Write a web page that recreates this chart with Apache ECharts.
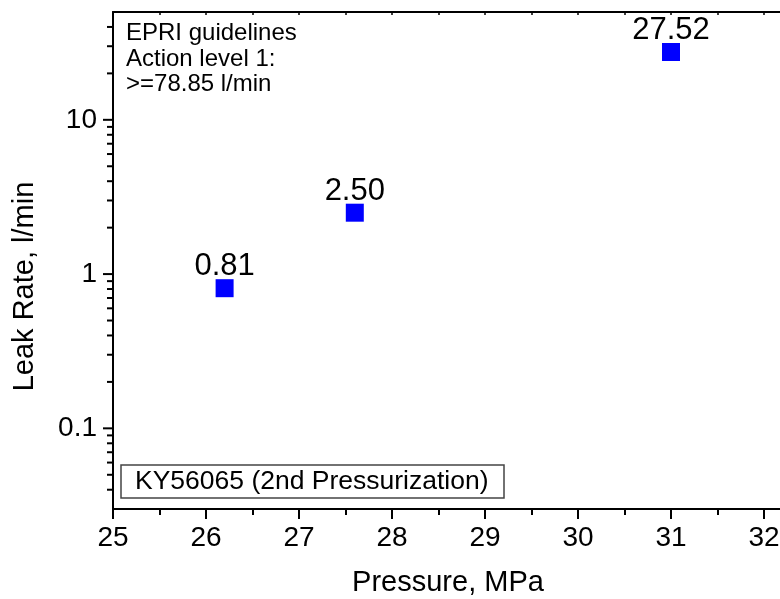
<!DOCTYPE html>
<html><head><meta charset="utf-8">
<script src="https://cdn.jsdelivr.net/npm/echarts@6/dist/echarts.min.js"></script>
<style>html,body{margin:0;padding:0;background:#fff}#c{width:780px;height:599px}</style>
</head><body><div id="c"></div>
<script>
const pressure = [26.2, 27.6, 31.0];
const leakRate = [0.81, 2.50, 27.52];
const pointLabels = ['0.81', '2.50', '27.52'];
const yMajorTicks = [0.1, 1, 10];
const yMinorTicks = [0.04, 0.05, 0.06, 0.07, 0.08, 0.09,
  0.2, 0.3, 0.4, 0.5, 0.6, 0.7, 0.8, 0.9,
  2, 3, 4, 5, 6, 7, 8, 9,
  20, 30, 40];
const FONT = 'Liberation Sans, Arial, Helvetica, sans-serif';

const chart = echarts.init(document.getElementById('c'), null, {renderer: 'canvas'});

function isPow10(v) {
  const l = Math.log10(v);
  return Math.abs(l - Math.round(l)) < 1e-6;
}

const tickData = yMajorTicks.map(v => [25, v, 10]).concat(yMinorTicks.map(v => [25, v, 6]));

chart.setOption({
  backgroundColor: '#fff',
  animation: false,
  grid: {left: 113, top: 12, width: 744, height: 497, outerBoundsMode: 'none', containLabel: false},
  xAxis: [{
    type: 'value', min: 25, max: 33, interval: 1, position: 'bottom',
    name: 'Pressure, MPa', nameLocation: 'middle', nameGap: 59,
    nameTextStyle: {fontSize: 29, color: '#000', fontFamily: FONT, padding: [0, 74, 0, 0]},
    axisLine: {show: true, lineStyle: {color: '#000', width: 2}},
    axisTick: {show: true, inside: false, length: 10, lineStyle: {color: '#000', width: 2}},
    minorTick: {show: true, splitNumber: 2, length: 6, lineStyle: {color: '#000', width: 2}},
    axisLabel: {fontSize: 28, color: '#000', fontFamily: FONT, margin: 15},
    splitLine: {show: false}, minorSplitLine: {show: false}
  }, {
    type: 'value', min: 25, max: 33, interval: 0.5, position: 'top',
    axisLine: {show: true, lineStyle: {color: '#000', width: 2}},
    axisTick: {show: true, inside: true, length: 3, lineStyle: {color: '#000', width: 1.5}},
    axisLabel: {show: false},
    splitLine: {show: false}
  }],
  yAxis: {
    type: 'log', logBase: 10, min: 0.03, max: 50,
    name: 'Leak Rate, l/min', nameLocation: 'middle', nameGap: 74,
    nameTextStyle: {fontSize: 29, color: '#000', fontFamily: FONT, padding: [0, 52, 0, 0]},
    axisLine: {show: true, lineStyle: {color: '#000', width: 2}},
    axisTick: {show: false},
    axisLabel: {
      fontSize: 28, color: '#000', fontFamily: FONT, margin: 16,
      formatter: v => isPow10(v) ? String(Number(v.toPrecision(6))) : ''
    },
    splitLine: {show: false}
  },
  series: [{
    type: 'custom', xAxisIndex: 0, clip: false, silent: true, z: 5,
    data: tickData,
    renderItem: (params, api) => {
      const p = api.coord([api.value(0), api.value(1)]);
      const len = api.value(2);
      return {type: 'line', shape: {x1: p[0] - len, y1: p[1], x2: p[0], y2: p[1]},
        style: {stroke: '#000', lineWidth: 2}};
    }
  }, {
    type: 'scatter', xAxisIndex: 0,
    symbol: 'rect', symbolSize: 18,
    itemStyle: {color: '#0000ff', opacity: 1},
    data: pressure.map((x, i) => [x, leakRate[i]]),
    label: {
      show: true, position: 'top', distance: -3,
      fontSize: 31, color: '#000', opacity: 1, fontFamily: FONT,
      formatter: p => pointLabels[p.dataIndex]
    },
    emphasis: {disabled: true},
    z: 10
  }],
  graphic: [{
    type: 'text', left: 126, top: 21, z: 20,
    style: {text: 'EPRI guidelines\nAction level 1:\n>=78.85 l/min', font: '24px ' + FONT, lineHeight: 25.5, fill: '#000'}
  }, {
    type: 'rect', z: 20,
    shape: {x: 121, y: 465, width: 383, height: 33},
    style: {fill: '#fff', stroke: '#444', lineWidth: 1.5}
  }, {
    type: 'text', z: 21, x: 135, y: 482,
    style: {text: 'KY56065 (2nd Pressurization)', font: '26.5px ' + FONT, fill: '#000', verticalAlign: 'middle', align: 'left'}
  }]
});
</script></body></html>
